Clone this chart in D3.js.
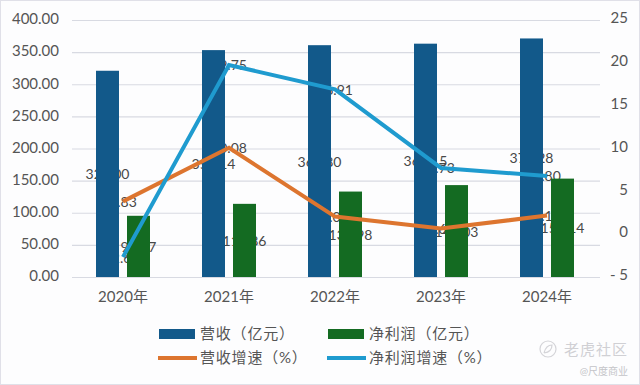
<!DOCTYPE html>
<html lang="en">
<head>
    <meta charset="UTF-8">
    <title>营收与净利润</title>
    <script src="https://d3js.org/d3.v7.min.js"></script>
    <style>
        html, body { margin: 0; padding: 0; background: #fdfdfe; }
        svg { display: block; }
        text { font-family: Lato, "Noto Sans CJK SC", sans-serif; fill: #555; }
        .grid line { stroke: #d8dae2; stroke-width: 1.2px; }
        .axis path, .axis line { display: none; }
        .label { font-size: 14px; text-anchor: middle; dominant-baseline: central; fill: #484848; }
    </style>
</head>
<body>
    <svg width="640" height="385"></svg>
    <script>
        const years = ["2020年", "2021年", "2022年", "2023年", "2024年"];
        const revenue = [321.00, 353.14, 360.80, 363.15, 371.28];
        const profit = [95.27, 113.86, 132.98, 143.03, 153.14];
        const revenueGrowth = [3.83, 10.08, 2.05, 0.65, 2.17];
        const profitGrowth = [-2.67, 19.75, 16.91, 7.73, 6.80];
        const leftTicks = [0, 50, 100, 150, 200, 250, 300, 350, 400];
        const rightTicks = [-5, 0, 5, 10, 15, 20, 25];

        const blue = "#12598a", green = "#146b22", orange = "#dd752f", sky = "#1f9bcf";

        const svg = d3.select("svg");

        const x = d3.scaleBand().domain(years).range([70, 600]);
        const yLeft = d3.scaleLinear().domain([0, 400]).range([277, 20]);
        const yRight = d3.scaleLinear().domain([-5, 25]).range([277, 20]);
        const mid = d => x(d) + x.bandwidth() / 2;

        // page edge
        svg.append("rect").attr("width", 640).attr("height", 385)
            .attr("fill", "none").attr("stroke", "#e0e0e8").attr("stroke-width", 2);

        // gridlines
        svg.append("g").attr("class", "grid")
            .attr("transform", "translate(72,0)")
            .call(d3.axisLeft(yLeft).tickValues(leftTicks).tickSize(-528).tickFormat(""))
            .select(".domain").remove();

        // axes
        svg.append("g").attr("class", "axis")
            .attr("transform", "translate(62,-1)")
            .call(d3.axisLeft(yLeft).tickValues(leftTicks).tickSize(0).tickFormat(d3.format(".2f")))
            .selectAll("text").style("font-size", "15px");

        svg.append("g").attr("class", "axis")
            .attr("transform", "translate(625,-2)")
            .call(d3.axisRight(yRight).tickValues(rightTicks).tickSize(0).tickFormat(d => d < 0 ? "- " + (-d) : d))
            .selectAll("text").style("font-size", "15px").attr("text-anchor", "end");

        svg.append("g").attr("class", "axis")
            .attr("transform", "translate(0,288)")
            .call(d3.axisBottom(x).tickSize(0))
            .selectAll("text").style("font-size", "15px");

        const barW = 23;
        const blueX = d => mid(d) - 27;
        const greenX = d => mid(d) + 4;

        // data labels sit under the bars and lines, as in the source chart
        const labels = svg.append("g");
        labels.selectAll(".rev").data(years).enter().append("text").attr("class", "label")
            .attr("x", d => blueX(d) + barW / 2)
            .attr("y", (d, i) => yLeft(revenue[i] / 2))
            .text((d, i) => revenue[i].toFixed(2));
        labels.selectAll(".pro").data(years).enter().append("text").attr("class", "label")
            .attr("x", d => greenX(d) + barW / 2)
            .attr("y", (d, i) => yLeft(profit[i] / 2))
            .text((d, i) => profit[i].toFixed(2));
        labels.selectAll(".rg").data(years).enter().append("text").attr("class", "label")
            .attr("x", mid)
            .attr("y", (d, i) => yRight(revenueGrowth[i]))
            .text((d, i) => revenueGrowth[i].toFixed(2));
        labels.selectAll(".pg").data(years).enter().append("text").attr("class", "label")
            .attr("x", mid)
            .attr("y", (d, i) => yRight(profitGrowth[i]))
            .text((d, i) => profitGrowth[i].toFixed(2));

        // bars
        svg.append("g").selectAll("rect").data(years).enter().append("rect")
            .attr("x", blueX)
            .attr("y", (d, i) => yLeft(revenue[i]))
            .attr("width", barW)
            .attr("height", (d, i) => yLeft(0) - yLeft(revenue[i]))
            .attr("fill", blue);
        svg.append("g").selectAll("rect").data(years).enter().append("rect")
            .attr("x", greenX)
            .attr("y", (d, i) => yLeft(profit[i]))
            .attr("width", barW)
            .attr("height", (d, i) => yLeft(0) - yLeft(profit[i]))
            .attr("fill", green);

        // lines
        const line = d3.line().x((d, i) => mid(years[i])).y(d => yRight(d));
        svg.append("path").datum(revenueGrowth).attr("d", line)
            .attr("fill", "none").attr("stroke", orange).attr("stroke-width", 4);
        svg.append("path").datum(profitGrowth).attr("d", line)
            .attr("fill", "none").attr("stroke", sky).attr("stroke-width", 4);

        // legend
        const legend = [
            { name: "营收（亿元）", color: blue, type: "bar", col: 0, row: 0 },
            { name: "净利润（亿元）", color: green, type: "bar", col: 1, row: 0 },
            { name: "营收增速（%）", color: orange, type: "line", col: 0, row: 1 },
            { name: "净利润增速（%）", color: sky, type: "line", col: 1, row: 1 }
        ];
        const item = svg.append("g").selectAll("g").data(legend).enter().append("g")
            .attr("transform", d => `translate(${159 + d.col * 169},${334 + d.row * 24})`);
        item.filter(d => d.type === "bar").append("rect")
            .attr("y", -5).attr("width", 36).attr("height", 10).attr("fill", d => d.color);
        item.filter(d => d.type === "line").append("line")
            .attr("x1", -1).attr("x2", 38).attr("stroke", d => d.color).attr("stroke-width", 4);
        item.append("text").attr("x", 41).attr("dy", "0.35em")
            .style("font-size", "15px").style("letter-spacing", "0.8px").text(d => d.name);

        // watermark
        svg.append("circle").attr("cx", 548).attr("cy", 349).attr("r", 8)
            .attr("fill", "none").attr("stroke", "#d4d4d8").attr("stroke-width", 1.2);
        svg.append("path").attr("d", "M544,353 Q546,345 552,345 Q552,352 544,353")
            .attr("fill", "none").attr("stroke", "#d4d4d8").attr("stroke-width", 1.2);
        svg.append("text").attr("x", 628).attr("y", 355).attr("text-anchor", "end")
            .style("font-size", "15px").style("fill", "#d0d0d4").style("letter-spacing", "1px").text("老虎社区");
        svg.append("text").attr("x", 628).attr("y", 375).attr("text-anchor", "end")
            .style("font-size", "10px").style("fill", "#c4c4c8").text("@尺度商业");
    </script>
</body>
</html>
